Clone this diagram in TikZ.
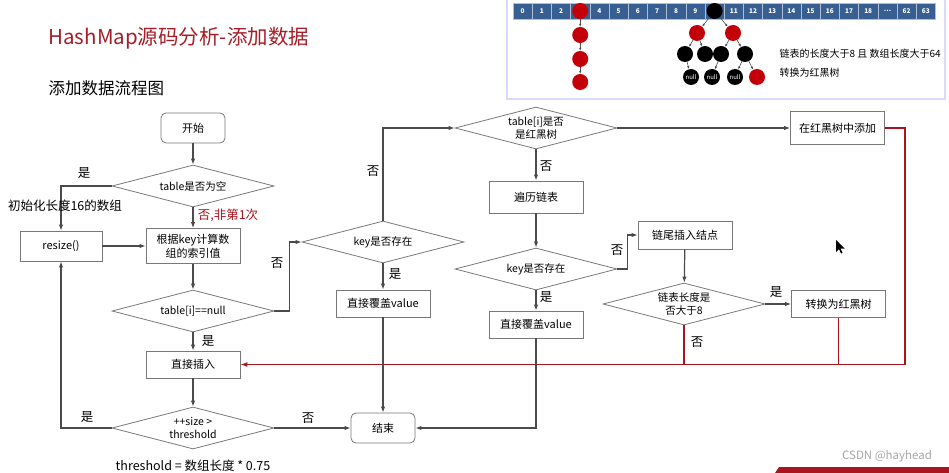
\documentclass[tikz,border=0pt]{standalone}
\usepackage{fontspec}
\setmainfont{Noto Sans CJK SC}
\usetikzlibrary{shapes.geometric,arrows.meta}
\definecolor{titlered}{RGB}{165,30,40}
\definecolor{linegray}{RGB}{75,75,75}
\definecolor{cellblue}{RGB}{55,95,145}
\definecolor{nodered}{RGB}{195,0,10}
\definecolor{flowred}{RGB}{170,20,30}
\tikzset{
  box/.style={draw=linegray!75, line width=0.8pt, minimum width=94pt, minimum height=28pt, inner sep=1pt, align=center, font=\fontsize{11}{14}\selectfont},
  ends/.style={box, rounded corners=5pt, minimum width=64pt, minimum height=30pt},
  cond/.style={draw=linegray!75, line width=0.8pt, diamond, aspect=3.8, minimum width=162pt, minimum height=42pt, inner sep=0pt, align=center, font=\fontsize{10.5}{13}\selectfont},
  flow/.style={draw=linegray, line width=1.2pt, -{Latex[length=6pt,width=4.5pt]}},
  back/.style={draw=flowred, line width=1.6pt},
  lbl/.style={font=\fontsize{12.5}{14}\selectfont},
  cell/.style={fill=cellblue, draw=white!60!cellblue, line width=0.6pt, minimum width=19.2pt, minimum height=16pt, inner sep=0pt, text=white, font=\fontsize{6.5}{7}\selectfont\bfseries},
  rb/.style={circle, minimum size=16pt, inner sep=0pt, text=white, font=\fontsize{6}{6}\selectfont},
  redn/.style={rb, fill=nodered},
  blackn/.style={rb, fill=black},
  link/.style={draw=gray!60!black, line width=0.6pt, -{Latex[length=3pt,width=2.5pt]}}
}
\begin{document}
\begin{tikzpicture}[x=1pt,y=-1pt]
\useasboundingbox (0,0) rectangle (949,473);
\node[anchor=west, text=titlered, font=\fontsize{20.5}{24}\selectfont] (title) at (45,38) {HashMap源码分析-添加数据};
\node[anchor=west, font=\fontsize{16.5}{20}\selectfont] (subtitle) at (45,88) {添加数据流程图};
\draw[draw=blue!15, line width=1.5pt] (507,-2) rectangle (945,99);
\foreach \lab [count=\i from 0] in {0,1,2,{},4,5,6,7,8,9,{},11,12,13,14,15,16,17,18,\ldots,62,63}
  \node[cell] (c\i) at (522.6+19.2*\i,11) {\lab};
\node[redn] (l0) at (c3) {};
\node[redn] (l1) at (580.2,35) {};
\node[redn] (l2) at (580.2,59) {};
\node[redn] (l3) at (580.2,82) {};
\draw[link] (l0) -- (l1);
\draw[link] (l1) -- (l2);
\draw[link] (l2) -- (l3);
\node[blackn] (root) at (c10) {};
\node[redn] (r1) at (697,33) {};
\node[redn] (r2) at (733,33) {};
\node[blackn] (b1) at (685,54) {};
\node[blackn] (b2) at (705,54) {};
\node[blackn] (b3) at (721,54) {};
\node[blackn] (b4) at (745,54) {};
\node[blackn] (n1) at (691,77) {null};
\node[blackn] (n2) at (712,77) {null};
\node[blackn] (n3) at (735,77) {null};
\node[redn] (r3) at (757,77) {};
\draw[link] (root) -- (r1);
\draw[link] (root) -- (r2);
\draw[link] (r1) -- (b1);
\draw[link] (r1) -- (b2);
\draw[link] (r2) -- (b3);
\draw[link] (r2) -- (b4);
\draw[link] (b1) -- (n1);
\draw[link] (b3) -- (n2);
\draw[link] (b4) -- (n3);
\draw[link] (b4) -- (r3);
\node[anchor=west, font=\fontsize{10}{12}\selectfont] (rule1) at (776,54) {链表的长度大于8 且 数组长度大于64};
\node[anchor=west, font=\fontsize{10}{12}\selectfont] (rule2) at (776,73) {转换为红黑树};
\node[ends] (start) at (193,128) {开始};
\node[cond] (empty) at (193,186) {table是否为空};
\node[box, minimum width=82pt, minimum height=30pt] (resize) at (61,246) {resize()};
\node[box, minimum height=35pt] (index) at (193,246) {根据key计算数\\组的索引值};
\node[cond] (isnull) at (193,311) {table[i]==null};
\node[box, minimum height=27pt] (insert) at (193,364.5) {直接插入};
\node[cond] (size) at (193,428) {++size >\\threshold};
\node[lbl] (thr) at (193,466) {threshold = 数组长度 * 0.75};
\node[cond] (exist1) at (383,242) {key是否存在};
\node[box, minimum height=27pt] (cover1) at (383,303.5) {直接覆盖value};
\node[ends] (finish) at (383,428) {结束};
\node[cond] (tree) at (536,128) {table[i]是否\\是红黑树};
\node[box, minimum height=32pt] (walk) at (536,197) {遍历链表};
\node[cond] (exist2) at (536,269) {key是否存在};
\node[box, minimum height=27pt] (cover2) at (536,324.5) {直接覆盖value};
\node[box, minimum height=33pt] (treeadd) at (837.5,128) {在红黑树中添加};
\node[box, minimum height=28pt] (tail) at (685,235) {链尾插入结点};
\node[cond] (len) at (684,304) {链表长度是\\否大于8};
\node[box, minimum height=27pt] (convert) at (838.5,304) {转换为红黑树};
\coordinate (rc) at (905,364.5);
\draw[back] (convert.south) -- (convert.south |- rc);
\draw[back] (len.south) -- (len.south |- rc);
\draw[back, -{Latex[length=7pt,width=5pt]}] (treeadd.east) -| (rc) -- (insert.east);
\draw[flow] (start) -- (empty);
\draw[flow] (empty.west) -| (resize.north);
\draw[flow] (empty) -- (index);
\draw[flow] (resize) -- (index);
\draw[flow] (index) -- (isnull);
\draw[flow] (isnull.east) -- ++(15,0) |- (exist1.west);
\draw[flow] (isnull) -- (insert);
\draw[flow] (insert) -- (size);
\draw[flow] (size.west) -| (resize.south);
\draw[flow] (size.east) -- (finish.west);
\draw[flow] (exist1.north) |- (tree.west);
\draw[flow] (exist1) -- (cover1);
\draw[flow] (cover1) -- (finish);
\draw[flow] (tree) -- (walk);
\draw[flow] (tree.east) -- (treeadd.west);
\draw[flow] (walk) -- (exist2);
\draw[flow] (exist2.east) -- ++(10,0) |- (tail.west);
\draw[flow] (exist2) -- (cover2);
\draw[flow] (cover2.south) |- (finish.east);
\draw[flow] (tail) -- (len);
\draw[flow] (len.east) -- (convert.west);
\node[lbl] at (84,173) {是};
\node[lbl] at (65,206) {初始化长度16的数组};
\node[lbl, text=flowred] at (228,215) {否,非第1次};
\node[lbl] at (277,263) {否};
\node[lbl] at (208,341) {是};
\node[lbl] at (87,417) {是};
\node[lbl] at (308,418) {否};
\node[lbl] at (373,171) {否};
\node[lbl] at (395,274) {是};
\node[lbl] at (546,166) {否};
\node[lbl] at (617,250) {否};
\node[lbl] at (546,297) {是};
\node[lbl] at (776,292) {是};
\node[lbl] at (697,342) {否};
\fill (836,240) -- (836,252) -- (839,249) -- (841,253.5) -- (842.5,252.8) -- (840.5,248.5) -- (844.5,248.5) -- cycle;
\node[text=gray!70, font=\fontsize{11.5}{13}\selectfont] (mark) at (887,456) {CSDN @hayhead};
\fill[flowred] (779,467) -- (949,467) -- (949,473) -- (775,473) -- cycle;
\end{tikzpicture}
\end{document}
